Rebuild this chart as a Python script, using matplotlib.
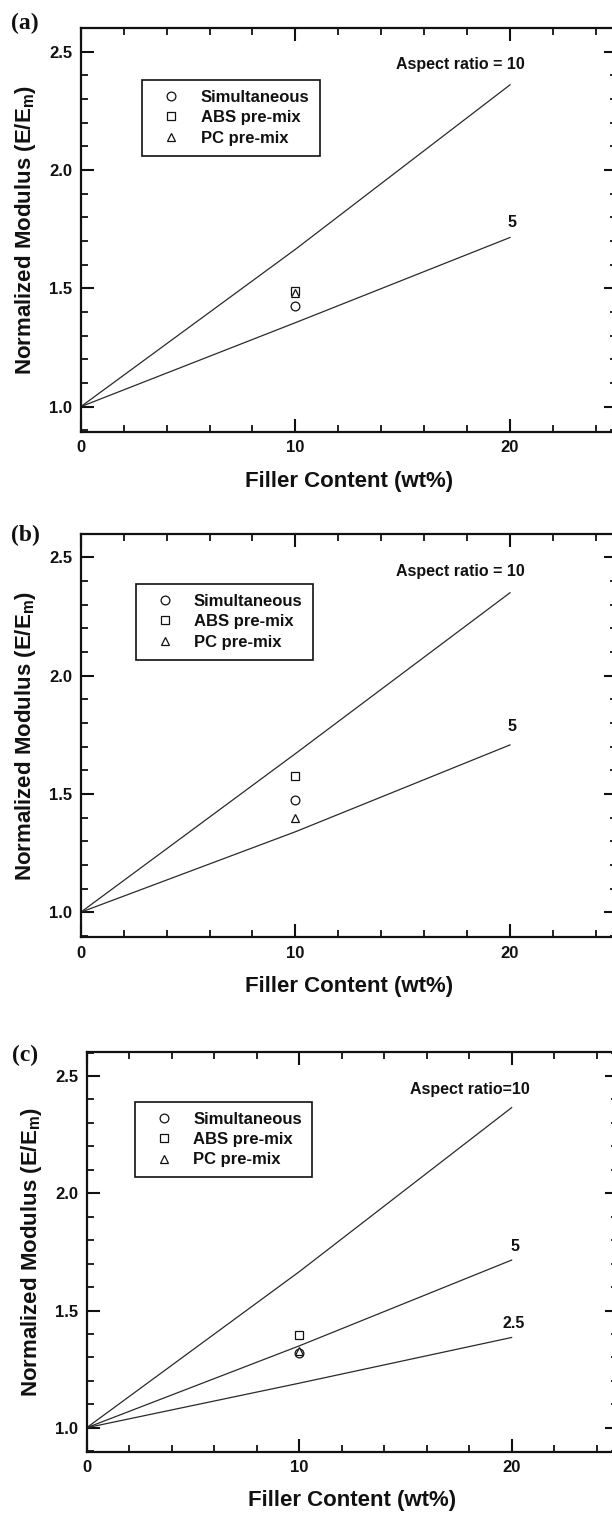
import matplotlib
matplotlib.use("Agg")
import matplotlib.pyplot as plt
from matplotlib.lines import Line2D
from matplotlib.ticker import MultipleLocator

plt.rcParams['font.family'] = ['Liberation Sans', 'DejaVu Sans']
plt.rcParams['font.weight'] = 'bold'
plt.rcParams['mathtext.fontset'] = 'custom'
plt.rcParams['mathtext.rm'] = 'Liberation Sans:bold'
plt.rcParams['mathtext.it'] = 'Liberation Sans:bold'
plt.rcParams['mathtext.bf'] = 'Liberation Sans:bold'

# ---- data ----
x_model = [0, 10, 20]
a_ar10 = [1.0, 1.665, 2.36]
a_ar5 = [1.0, 1.355, 1.715]
b_ar10 = [1.0, 1.67, 2.35]
b_ar5 = [1.0, 1.34, 1.707]
c_ar10 = [1.0, 1.665, 2.365]
c_ar5 = [1.0, 1.349, 1.715]
c_ar25 = [1.0, 1.19, 1.385]

x_exp = 10
sim_vals = [1.426, 1.475, 1.317]   # panels a, b, c
abs_vals = [1.489, 1.576, 1.395]
pc_vals = [1.479, 1.397, 1.328]

series_labels = ["Simultaneous", "ABS pre-mix", "PC pre-mix"]
panel_tags = ["(a)", "(b)", "(c)"]
ar_top_labels = ["Aspect ratio = 10", "Aspect ratio = 10", "Aspect ratio=10"]

W, H = 612, 1515
fig = plt.figure(figsize=(W / 100, H / 100), dpi=100)

INK = '#111111'
LINE = '#2a2a2a'

def px_axes(left, top, right, bottom):
    return [left / W, 1 - bottom / H, (right - left) / W, (bottom - top) / H]

axes_px = [
    (80.8, 28.3, 80.8 + 536.5, 432.0),
    (80.8, 534.3, 80.8 + 536.5, 937.3),
    (86.6, 1052.3, 86.6 + 531.25, 1451.7),
]
ylims = [(0.893, 2.599), (0.894, 2.597), (0.898, 2.601)]
legend_anchor = [(0.115, 0.872), (0.102, 0.877), (0.0905, 0.876)]
aspect_pos = [(17.69, 2.444), (17.69, 2.439), (18.03, 2.443)]
five_pos = [(20.1, 1.778), (20.1, 1.784), (20.14, 1.775)]
tag_px = [(25, 23), (25, 535), (25, 1055)]

model_lines = [
    [a_ar10, a_ar5],
    [b_ar10, b_ar5],
    [c_ar10, c_ar5, c_ar25],
]

for i in range(3):
    ax = fig.add_axes(px_axes(*axes_px[i]))
    for ys in model_lines[i]:
        ax.plot(x_model, ys, color=LINE, lw=0.9, zorder=2)
    mk = dict(linestyle='none', markerfacecolor='white', markeredgecolor=INK,
              markeredgewidth=0.9, markersize=6.3, zorder=3)
    ax.plot([x_exp], [sim_vals[i]], marker='o', **mk)
    ax.plot([x_exp], [abs_vals[i]], marker='s', **mk)
    ax.plot([x_exp], [pc_vals[i]], marker='^', **mk)

    ax.set_xlim(0, 25)
    ax.set_ylim(*ylims[i])
    ax.xaxis.set_major_locator(MultipleLocator(10))
    ax.xaxis.set_minor_locator(MultipleLocator(2))
    ax.yaxis.set_major_locator(MultipleLocator(0.5))
    ax.yaxis.set_minor_locator(MultipleLocator(0.1))
    ax.yaxis.set_major_formatter(matplotlib.ticker.FormatStrFormatter('%.1f'))
    ax.xaxis.set_major_formatter(matplotlib.ticker.FormatStrFormatter('%d'))
    ax.tick_params(which='both', direction='in', top=True, right=True,
                   colors=INK, labelsize=12)
    ax.tick_params(which='major', length=9.5, width=1.5, pad=6)
    ax.tick_params(which='minor', length=5, width=1.3)
    for lab in ax.get_xticklabels() + ax.get_yticklabels():
        lab.set_fontweight('bold')
    for sp in ax.spines.values():
        sp.set_linewidth(1.6)
        sp.set_color(INK)

    ax.set_xlabel("Filler Content (wt%)", fontsize=16, fontweight='bold',
                  color=INK, labelpad=11)
    ax.set_ylabel(r"Normalized Modulus (E/E$_\mathrm{m}$)", fontsize=16,
                  fontweight='bold', color=INK, labelpad=8)

    ax.text(*aspect_pos[i], ar_top_labels[i], fontsize=11.5, fontweight='bold',
            ha='center', va='center', color=INK)
    ax.text(*five_pos[i], "5", fontsize=11.5, fontweight='bold',
            ha='center', va='center', color=INK)
    if i == 2:
        ax.text(20.08, 1.445, "2.5", fontsize=11.5, fontweight='bold',
                ha='center', va='center', color=INK)

    handles = [
        Line2D([], [], marker='o', linestyle='none', markerfacecolor='white',
               markeredgecolor=INK, markeredgewidth=0.9, markersize=6.3),
        Line2D([], [], marker='s', linestyle='none', markerfacecolor='white',
               markeredgecolor=INK, markeredgewidth=0.9, markersize=6.3),
        Line2D([], [], marker='^', linestyle='none', markerfacecolor='white',
               markeredgecolor=INK, markeredgewidth=0.9, markersize=6.3),
    ]
    leg = ax.legend(handles, series_labels, loc='upper left',
                    bbox_to_anchor=legend_anchor[i], borderaxespad=0,
                    fancybox=False, framealpha=1, edgecolor=INK,
                    prop={'size': 12, 'weight': 'bold'},
                    borderpad=0.6, labelspacing=0.32, handlelength=2.28,
                    handletextpad=0.63)
    leg.get_frame().set_linewidth(1.2)
    for t in leg.get_texts():
        t.set_color(INK)

    fig.text(tag_px[i][0] / W, 1 - tag_px[i][1] / H, panel_tags[i],
             family='Liberation Serif', fontweight='bold', fontsize=17,
             ha='center', va='center', color=INK)

fig.savefig("out.png", dpi=100, facecolor='white')
